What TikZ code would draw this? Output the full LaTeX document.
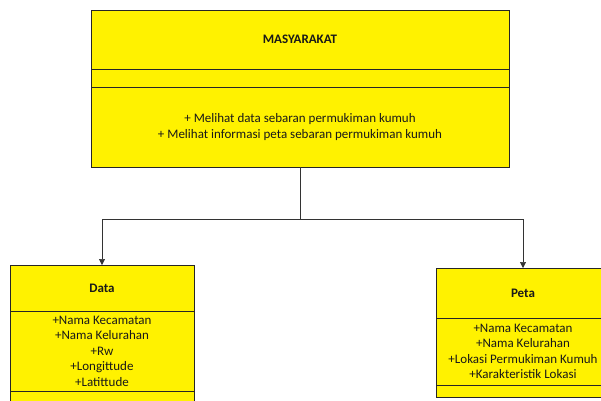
\documentclass[tikz,border=0pt]{standalone}
\usepackage{fontspec}
\setmainfont{Carlito}
\usetikzlibrary{arrows.meta,positioning}

\begin{document}
\begin{tikzpicture}[
    x=1pt, y=-1pt,
    part/.style={draw=black!85, fill=yellow, inner sep=0pt, outer sep=0pt, align=center, font=\fontsize{13}{15.5}\selectfont, text=black!90},
    head/.style={part, font=\fontsize{13}{15.5}\selectfont\bfseries},
    flow/.style={-{Triangle[length=6pt,width=6pt]}, semithick, draw=black!80}
]
\useasboundingbox (0,0) rectangle (601,400);
\clip (0,0) rectangle (601,400);
% MASYARAKAT class
\node[head, minimum width=418pt, minimum height=59pt, anchor=north] (mtitle) at (300,10) {MASYARAKAT};
\node[part, minimum width=418pt, minimum height=18pt, below=0pt of mtitle] (mattr) {};
\node[part, minimum width=418pt, minimum height=80pt, below=0pt of mattr] (mops) {+ Melihat data sebaran permukiman kumuh\\+ Melihat informasi peta sebaran permukiman kumuh};
% Data class
\node[head, minimum width=184pt, minimum height=46pt, anchor=north] (dtitle) at (102,265) {Data};
\node[part, minimum width=184pt, minimum height=80pt, below=0pt of dtitle] (dattr) {+Nama Kecamatan\\+Nama Kelurahan\\+Rw\\+Longittude\\+Latittude};
\node[part, minimum width=184pt, minimum height=20pt, below=0pt of dattr] (dops) {};
% Peta class
\node[head, minimum width=174pt, minimum height=50pt, anchor=north] (ptitle) at (523,268) {Peta};
\node[part, minimum width=174pt, minimum height=67pt, below=0pt of ptitle] (pattr) {+Nama Kecamatan\\+Nama Kelurahan\\+Lokasi Permukiman Kumuh\\+Karakteristik Lokasi};
\node[part, minimum width=174pt, minimum height=12pt, below=0pt of pattr] (pops) {};
% connectors
\coordinate[below=52pt of mops] (split);
\draw[semithick, draw=black!80] (mops.south) -- (split);
\draw[flow] (split) -| (dtitle.north);
\draw[flow] (split) -| (ptitle.north);
\end{tikzpicture}
\end{document}
